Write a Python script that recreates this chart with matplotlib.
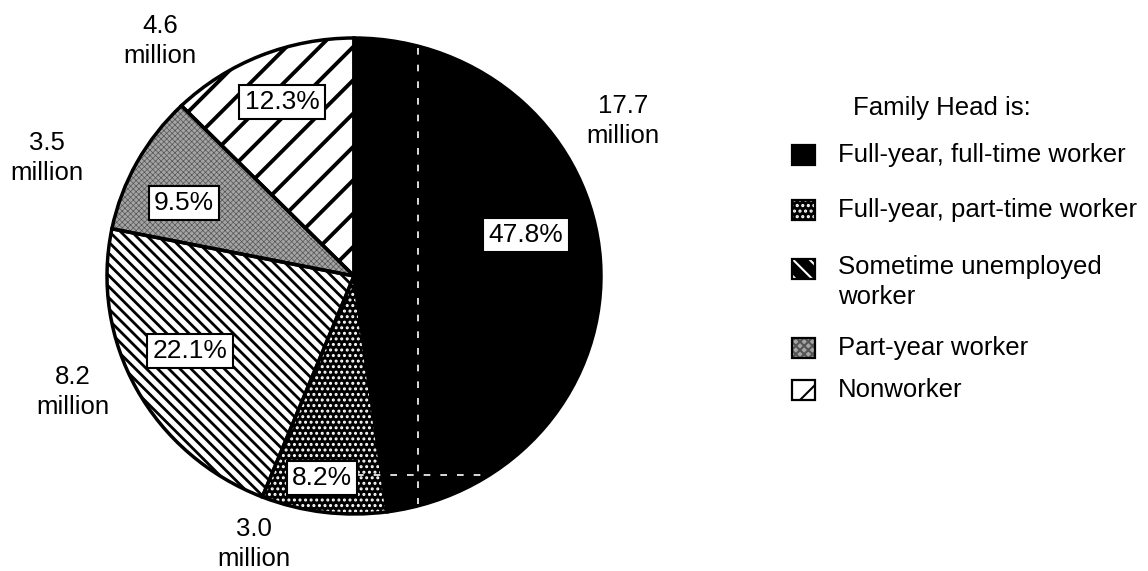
import matplotlib.pyplot as plt
from matplotlib.patches import Rectangle

plt.rcParams['font.family'] = ['Liberation Sans', 'DejaVu Sans']
plt.rcParams['hatch.linewidth'] = 2.0

# data: families by work experience of the family head
groups = ["Full-year, full-time worker", "Full-year, part-time worker",
          "Sometime unemployed\nworker", "Part-year worker", "Nonworker"]
shares = [47.8, 8.2, 22.1, 9.5, 12.3]          # percent
families = ["17.7", "3.0", "8.2", "3.5", "4.6"]  # millions

# slice styles
faces = ['black', 'black', 'white', '#a4a4a4', 'white']
hatches = ['', '...', '\\\\\\', 'xxxxxx', '/']
hatch_cols = ['black', 'white', 'black', '#555555', 'black']
hatch_lws = [1.0, 1.4, 2.0, 0.5, 2.8]

# legend swatches (small squares drawn a bit differently)
key_faces = ['black', 'black', 'black', '#a4a4a4', 'white']
key_hatches = ['', '...', '\\\\', 'xxxx', '/']
key_cols = ['black', 'white', 'white', '#555555', 'black']

# label spots (pie units, ellipse radius = 1)
pct_pos = [(0.696, 0.172), (-0.130, -0.849), (-0.664, -0.315),
           (-0.688, 0.307), (-0.291, 0.731)]
mil_pos = [(1.089, 0.651), (-0.405, -1.126), (-1.138, -0.487),
           (-1.243, 0.496), (-0.785, 0.987)]

fig = plt.figure(figsize=(11.48, 5.71), dpi=100)
ax = fig.add_axes([107 / 1148, 57 / 571, 494 / 1148, 476 / 571])

wedges, _ = ax.pie(shares, startangle=90, counterclock=False, radius=1)
for w, fc, h, hc, hl in zip(wedges, faces, hatches, hatch_cols, hatch_lws):
    w.set_facecolor(fc)
    w.set_edgecolor(hc)
    w.set_linewidth(0)
    w.set_hatch(h)
    if hasattr(w, 'set_hatch_linewidth'):
        w.set_hatch_linewidth(hl)
    w.set_clip_on(False)

outline, _ = ax.pie(shares, startangle=90, counterclock=False, radius=1,
                    wedgeprops=dict(fill=False, edgecolor='black', linewidth=2.5))
for w in outline:
    w.set_clip_on(False)

ax.set_aspect('auto')
ax.set_xlim(-1, 1)
ax.set_ylim(-1, 1)

# white dashed leader lines through the dark slice
ax.plot([0.259, 0.259], [0.96, -0.96], color='white', lw=1.2, ls=(0, (4, 6)))
ax.plot([0.012, 0.55], [-0.836, -0.836], color='white', lw=1.2, ls=(0, (4, 6)))

for s, (x, y) in zip(shares, pct_pos):
    ax.text(x, y, f"{s:.1f}%", ha='center', va='center', fontsize=19,
            bbox=dict(boxstyle='square,pad=0.2', fc='white', ec='black', lw=1.5))

for m, (x, y) in zip(families, mil_pos):
    ax.text(x, y, f"{m}\nmillion", ha='center', va='center', fontsize=18.5,
            linespacing=1.35)

# legend drawn by hand
row_y = [155, 210, 282, 348, 390]
fig.text(853 / 1148, 1 - 108 / 571, "Family Head is:", fontsize=18.5, va='center')
for g, fc, h, hc, y in zip(groups, key_faces, key_hatches, key_cols, row_y):
    top = 269 if '\n' in g else y
    r = Rectangle((792 / 1148, 1 - (top + 10) / 571), 23 / 1148, 20 / 571,
                  transform=fig.transFigure, facecolor=fc, edgecolor=hc,
                  hatch=h, linewidth=0)
    if hasattr(r, 'set_hatch_linewidth'):
        r.set_hatch_linewidth(1.5)
    fig.add_artist(r)
    fig.add_artist(Rectangle((792 / 1148, 1 - (top + 10) / 571), 23 / 1148, 20 / 571,
                             transform=fig.transFigure, fill=False,
                             edgecolor='black', linewidth=1.6))
    fig.text(838 / 1148, 1 - y / 571, g, fontsize=18.5, va='center', linespacing=1.35)

fig.savefig('out.png', dpi=100)
